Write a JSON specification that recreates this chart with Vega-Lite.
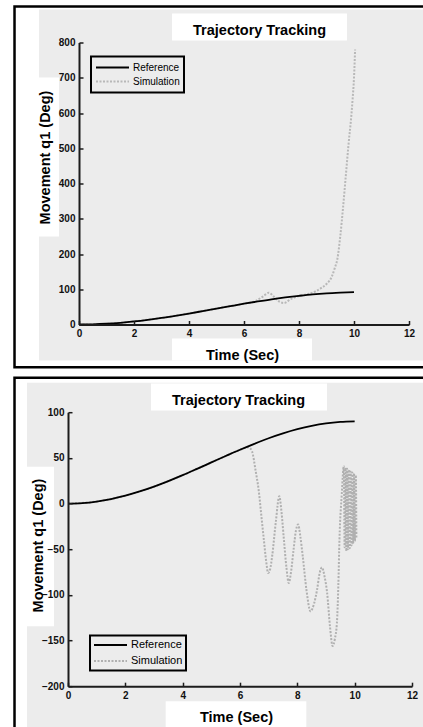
{
  "$schema": "https://vega.github.io/schema/vega-lite/v6.json",
  "background": "white",
  "padding": {"left": 13, "top": 4.5, "right": 0, "bottom": 0},
  "bounds": "flush",
  "spacing": 87.7,
  "config": {
    "view": {"stroke": null},
    "font": "Liberation Sans",
    "axis": {
      "grid": false,
      "domainColor": "#1c1c1c",
      "domainWidth": 2,
      "tickColor": "#1c1c1c",
      "tickWidth": 1.5,
      "tickSize": -4,
      "labelFont": "Liberation Sans",
      "labelFontSize": 10,
      "labelFontWeight": "bold",
      "labelColor": "#111111",
      "labelPadding": 8,
      "labelFlush": false,
      "labelOverlap": false,
      "titleFont": "Liberation Sans",
      "titleFontSize": 14.5,
      "titleFontWeight": "bold",
      "titleColor": "black",
      "titleBaseline": "alphabetic",
      "titleAlign": "center"
    },
    "axisY": {"tickCount": 9},
    "legend": {
      "orient": "none",
      "symbolType": "stroke",
      "symbolSize": 1089,
      "symbolStrokeWidth": 2,
      "strokeColor": "black",
      "fillColor": "#ececec",
      "labelFont": "Liberation Sans",
      "labelColor": "black",
      "zindex": 1
    }
  },
  "datasets": {
    "top": [
      {"time": 0, "q1": 0, "series": "Reference"},
      {"time": 0.5, "q1": 0.55, "series": "Reference"},
      {"time": 1, "q1": 2.2, "series": "Reference"},
      {"time": 1.5, "q1": 4.9, "series": "Reference"},
      {"time": 2, "q1": 8.6, "series": "Reference"},
      {"time": 2.5, "q1": 13.2, "series": "Reference"},
      {"time": 3, "q1": 18.5, "series": "Reference"},
      {"time": 3.5, "q1": 24.6, "series": "Reference"},
      {"time": 4, "q1": 31.1, "series": "Reference"},
      {"time": 4.5, "q1": 38, "series": "Reference"},
      {"time": 5, "q1": 45, "series": "Reference"},
      {"time": 5.5, "q1": 52, "series": "Reference"},
      {"time": 6, "q1": 58.9, "series": "Reference"},
      {"time": 6.5, "q1": 65.4, "series": "Reference"},
      {"time": 7, "q1": 71.5, "series": "Reference"},
      {"time": 7.5, "q1": 76.8, "series": "Reference"},
      {"time": 8, "q1": 81.4, "series": "Reference"},
      {"time": 8.5, "q1": 85.5, "series": "Reference"},
      {"time": 9, "q1": 88.5, "series": "Reference"},
      {"time": 9.5, "q1": 90.5, "series": "Reference"},
      {"time": 10, "q1": 92, "series": "Reference"},
      {"time": 0, "q1": 0, "series": "Simulation"},
      {"time": 0.5, "q1": 0.3, "series": "Simulation"},
      {"time": 1, "q1": 1.5, "series": "Simulation"},
      {"time": 1.5, "q1": 4.5, "series": "Simulation"},
      {"time": 2, "q1": 8.8, "series": "Simulation"},
      {"time": 2.5, "q1": 13.5, "series": "Simulation"},
      {"time": 3, "q1": 18.8, "series": "Simulation"},
      {"time": 3.5, "q1": 24.8, "series": "Simulation"},
      {"time": 4, "q1": 31.3, "series": "Simulation"},
      {"time": 4.5, "q1": 38.2, "series": "Simulation"},
      {"time": 5, "q1": 45.3, "series": "Simulation"},
      {"time": 5.5, "q1": 52.3, "series": "Simulation"},
      {"time": 6, "q1": 59.2, "series": "Simulation"},
      {"time": 6.4, "q1": 66, "series": "Simulation"},
      {"time": 6.7, "q1": 80, "series": "Simulation"},
      {"time": 6.9, "q1": 90, "series": "Simulation"},
      {"time": 7.1, "q1": 78, "series": "Simulation"},
      {"time": 7.3, "q1": 64, "series": "Simulation"},
      {"time": 7.45, "q1": 61, "series": "Simulation"},
      {"time": 7.7, "q1": 72, "series": "Simulation"},
      {"time": 8, "q1": 81, "series": "Simulation"},
      {"time": 8.3, "q1": 86, "series": "Simulation"},
      {"time": 8.6, "q1": 94, "series": "Simulation"},
      {"time": 8.8, "q1": 103, "series": "Simulation"},
      {"time": 9, "q1": 115, "series": "Simulation"},
      {"time": 9.2, "q1": 137, "series": "Simulation"},
      {"time": 9.3, "q1": 160, "series": "Simulation"},
      {"time": 9.4, "q1": 188, "series": "Simulation"},
      {"time": 9.5, "q1": 250, "series": "Simulation"},
      {"time": 9.6, "q1": 330, "series": "Simulation"},
      {"time": 9.7, "q1": 420, "series": "Simulation"},
      {"time": 9.8, "q1": 510, "series": "Simulation"},
      {"time": 9.9, "q1": 590, "series": "Simulation"},
      {"time": 9.95, "q1": 640, "series": "Simulation"},
      {"time": 10, "q1": 700, "series": "Simulation"},
      {"time": 10.04, "q1": 780, "series": "Simulation"}
    ],
    "bottom": [
      {"time": 0, "q1": 0, "series": "Reference"},
      {"time": 0.5, "q1": 0.55, "series": "Reference"},
      {"time": 1, "q1": 2.2, "series": "Reference"},
      {"time": 1.5, "q1": 4.9, "series": "Reference"},
      {"time": 2, "q1": 8.6, "series": "Reference"},
      {"time": 2.5, "q1": 13.2, "series": "Reference"},
      {"time": 3, "q1": 18.5, "series": "Reference"},
      {"time": 3.5, "q1": 24.6, "series": "Reference"},
      {"time": 4, "q1": 31.1, "series": "Reference"},
      {"time": 4.5, "q1": 38, "series": "Reference"},
      {"time": 5, "q1": 45, "series": "Reference"},
      {"time": 5.5, "q1": 52, "series": "Reference"},
      {"time": 6, "q1": 58.9, "series": "Reference"},
      {"time": 6.5, "q1": 65.4, "series": "Reference"},
      {"time": 7, "q1": 71.5, "series": "Reference"},
      {"time": 7.5, "q1": 76.8, "series": "Reference"},
      {"time": 8, "q1": 81.4, "series": "Reference"},
      {"time": 8.5, "q1": 85.1, "series": "Reference"},
      {"time": 9, "q1": 87.8, "series": "Reference"},
      {"time": 9.5, "q1": 89.4, "series": "Reference"},
      {"time": 10, "q1": 90, "series": "Reference"},
      {"time": 0, "q1": 0, "series": "Simulation"},
      {"time": 1, "q1": 2.2, "series": "Simulation"},
      {"time": 2, "q1": 8.6, "series": "Simulation"},
      {"time": 3, "q1": 18.5, "series": "Simulation"},
      {"time": 4, "q1": 31.1, "series": "Simulation"},
      {"time": 5, "q1": 45, "series": "Simulation"},
      {"time": 5.5, "q1": 52, "series": "Simulation"},
      {"time": 6, "q1": 58.9, "series": "Simulation"},
      {"time": 6.3, "q1": 61.5, "series": "Simulation"},
      {"time": 6.42, "q1": 57, "series": "Simulation"},
      {"time": 6.55, "q1": 35, "series": "Simulation"},
      {"time": 6.65, "q1": 15, "series": "Simulation"},
      {"time": 6.75, "q1": -15, "series": "Simulation"},
      {"time": 6.83, "q1": -39, "series": "Simulation"},
      {"time": 6.92, "q1": -65, "series": "Simulation"},
      {"time": 6.98, "q1": -76, "series": "Simulation"},
      {"time": 7.05, "q1": -72, "series": "Simulation"},
      {"time": 7.12, "q1": -58, "series": "Simulation"},
      {"time": 7.25, "q1": -20, "series": "Simulation"},
      {"time": 7.37, "q1": 8, "series": "Simulation"},
      {"time": 7.45, "q1": -10, "series": "Simulation"},
      {"time": 7.53, "q1": -39, "series": "Simulation"},
      {"time": 7.62, "q1": -70, "series": "Simulation"},
      {"time": 7.7, "q1": -87, "series": "Simulation"},
      {"time": 7.78, "q1": -75, "series": "Simulation"},
      {"time": 7.87, "q1": -50, "series": "Simulation"},
      {"time": 7.95, "q1": -30, "series": "Simulation"},
      {"time": 8.03, "q1": -23, "series": "Simulation"},
      {"time": 8.1, "q1": -35, "series": "Simulation"},
      {"time": 8.19, "q1": -58, "series": "Simulation"},
      {"time": 8.32, "q1": -95, "series": "Simulation"},
      {"time": 8.46, "q1": -118, "series": "Simulation"},
      {"time": 8.58, "q1": -110, "series": "Simulation"},
      {"time": 8.69, "q1": -94, "series": "Simulation"},
      {"time": 8.78, "q1": -76, "series": "Simulation"},
      {"time": 8.86, "q1": -70, "series": "Simulation"},
      {"time": 8.95, "q1": -80, "series": "Simulation"},
      {"time": 9.04, "q1": -98, "series": "Simulation"},
      {"time": 9.14, "q1": -135, "series": "Simulation"},
      {"time": 9.23, "q1": -156, "series": "Simulation"},
      {"time": 9.31, "q1": -148, "series": "Simulation"},
      {"time": 9.38, "q1": -131, "series": "Simulation"},
      {"time": 9.43, "q1": -90, "series": "Simulation"},
      {"time": 9.47, "q1": -39, "series": "Simulation"},
      {"time": 9.55, "q1": 10, "series": "Simulation"},
      {"time": 9.62, "q1": 41, "series": "Simulation"},
      {"time": 9.65, "q1": -48, "series": "Simulation"},
      {"time": 9.68, "q1": 39, "series": "Simulation"},
      {"time": 9.71, "q1": -52, "series": "Simulation"},
      {"time": 9.74, "q1": 38, "series": "Simulation"},
      {"time": 9.77, "q1": -50, "series": "Simulation"},
      {"time": 9.8, "q1": 37, "series": "Simulation"},
      {"time": 9.83, "q1": -49, "series": "Simulation"},
      {"time": 9.86, "q1": 35, "series": "Simulation"},
      {"time": 9.89, "q1": -46, "series": "Simulation"},
      {"time": 9.92, "q1": 34, "series": "Simulation"},
      {"time": 9.95, "q1": -44, "series": "Simulation"},
      {"time": 9.98, "q1": 33, "series": "Simulation"},
      {"time": 10.01, "q1": -41, "series": "Simulation"},
      {"time": 10.04, "q1": 31, "series": "Simulation"},
      {"time": 10.06, "q1": -38, "series": "Simulation"}
    ]
  },
  "resolve": {
    "scale": {"x": "independent", "y": "independent", "color": "independent", "strokeDash": "independent"},
    "legend": {"color": "independent", "strokeDash": "independent"}
  },
  "vconcat": [
    {
      "width": 330,
      "height": 282,
      "data": {"name": "top"},
      "layer": [
        {
          "data": {"values": [{}]},
          "mark": {"type": "rect", "filled": false, "stroke": "black", "strokeWidth": 2.5},
          "encoding": {
            "x": {
              "datum": -2.345, "type": "quantitative",
              "scale": {"domain": [0, 12], "nice": false, "zero": false},
              "axis": {"title": "Time (Sec)", "values": [0, 2, 4, 6, 8, 10, 12], "titleX": 163, "titleY": 35.4, "zindex": 1}
            },
            "x2": {"datum": 13.2},
            "y": {
              "datum": 902, "type": "quantitative",
              "scale": {"domain": [0, 800], "nice": false, "zero": false},
              "axis": {"title": "Movement q1 (Deg)", "values": [0, 100, 200, 300, 400, 500, 600, 700, 800], "titleX": -29.5, "titleY": 114.5, "zindex": 1}
            },
            "y2": {"datum": -121}
          }
        },
        {
          "data": {"values": [{}]},
          "mark": {"type": "rect", "fill": "#ececec"},
          "encoding": {
            "x": {"datum": -1.4545, "type": "quantitative", "scale": {"domain": [0, 12], "nice": false, "zero": false}},
            "x2": {"datum": 13.2},
            "y": {"datum": 893.6, "type": "quantitative", "scale": {"domain": [0, 800], "nice": false, "zero": false}},
            "y2": {"datum": -102}
          }
        },
        {
          "data": {"values": [{}]},
          "mark": {"type": "rect", "fill": "white"},
          "encoding": {
            "x": {"datum": 3.382, "type": "quantitative", "scale": {"domain": [0, 12], "nice": false, "zero": false}},
            "x2": {"datum": 9.745},
            "y": {"datum": 882.3, "type": "quantitative", "scale": {"domain": [0, 800], "nice": false, "zero": false}},
            "y2": {"datum": 805.7}
          }
        },
        {
          "data": {"values": [{}]},
          "mark": {"type": "rect", "fill": "white"},
          "encoding": {
            "x": {"datum": -1.4545, "type": "quantitative", "scale": {"domain": [0, 12], "nice": false, "zero": false}},
            "x2": {"datum": -0.727},
            "y": {"datum": 700.7, "type": "quantitative", "scale": {"domain": [0, 800], "nice": false, "zero": false}},
            "y2": {"datum": 249.6}
          }
        },
        {
          "data": {"values": [{}]},
          "mark": {"type": "rect", "fill": "white"},
          "encoding": {
            "x": {"datum": 3.382, "type": "quantitative", "scale": {"domain": [0, 12], "nice": false, "zero": false}},
            "x2": {"datum": 8.473},
            "y": {"datum": -39.7, "type": "quantitative", "scale": {"domain": [0, 800], "nice": false, "zero": false}},
            "y2": {"datum": -102}
          }
        },
        {
          "data": {"values": [{}]},
          "mark": {"type": "text", "font": "Liberation Sans", "fontSize": 14.5, "fontWeight": "bold", "color": "black", "align": "center", "baseline": "alphabetic"},
          "encoding": {
            "x": {"datum": 6.564, "type": "quantitative", "scale": {"domain": [0, 12], "nice": false, "zero": false}},
            "y": {"datum": 820, "type": "quantitative", "scale": {"domain": [0, 800], "nice": false, "zero": false}},
            "text": {"value": "Trajectory Tracking"}
          }
        },
        {
          "transform": [{"filter": "datum.series === 'Simulation'"}],
          "mark": {"type": "line", "strokeWidth": 2, "interpolate": "monotone"},
          "encoding": {
            "x": {"field": "time", "type": "quantitative", "scale": {"domain": [0, 12], "nice": false, "zero": false}},
            "y": {"field": "q1", "type": "quantitative", "scale": {"domain": [0, 800], "nice": false, "zero": false}},
            "color": {
              "field": "series", "type": "nominal",
              "scale": {"domain": ["Reference", "Simulation"], "range": ["#000000", "#b8b8b8"]},
              "legend": {"title": null, "legendX": 12, "legendY": 14, "padding": 4, "clipHeight": 14, "rowPadding": 0, "labelFontSize": 10, "labelOffset": 3, "encode": {"legend": {"update": {"strokeWidth": {"value": 2}}}}}
            },
            "strokeDash": {
              "field": "series", "type": "nominal",
              "scale": {"domain": ["Reference", "Simulation"], "range": [[1, 0], [2, 1.5]]},
              "legend": {"title": null, "legendX": 12, "legendY": 14, "padding": 4, "clipHeight": 14, "rowPadding": 0, "labelFontSize": 10, "labelOffset": 3, "encode": {"legend": {"update": {"strokeWidth": {"value": 2}}}}}
            }
          }
        },
        {
          "transform": [{"filter": "datum.series === 'Reference'"}],
          "mark": {"type": "line", "strokeWidth": 1.8, "interpolate": "monotone"},
          "encoding": {
            "x": {"field": "time", "type": "quantitative", "scale": {"domain": [0, 12], "nice": false, "zero": false}},
            "y": {"field": "q1", "type": "quantitative", "scale": {"domain": [0, 800], "nice": false, "zero": false}},
            "color": {"field": "series", "type": "nominal", "scale": {"domain": ["Reference", "Simulation"], "range": ["#000000", "#b8b8b8"]}, "legend": null}
          }
        }
      ]
    },
    {
      "width": 333,
      "height": 274,
      "data": {"name": "bottom"},
      "layer": [
        {
          "data": {"values": [{}]},
          "mark": {"type": "rect", "filled": false, "stroke": "black", "strokeWidth": 2.5},
          "encoding": {
            "x": {
              "datum": -1.866, "type": "quantitative",
              "scale": {"domain": [0, 12], "nice": false, "zero": false, "range": [-11, 333]},
              "axis": {"title": "Time (Sec)", "values": [0, 2, 4, 6, 8, 10, 12], "titleX": 157, "titleY": 35.3, "zindex": 1}
            },
            "x2": {"datum": 13.2},
            "y": {
              "datum": 137.6, "type": "quantitative",
              "scale": {"domain": [-200, 100], "nice": false, "zero": false},
              "axis": {"title": "Movement q1 (Deg)", "values": [-200, -150, -100, -50, 0, 50, 100], "offset": 11, "titleX": -25.6, "titleY": 132.8, "zindex": 1}
            },
            "y2": {"datum": -252}
          }
        },
        {
          "data": {"values": [{}]},
          "mark": {"type": "rect", "fill": "#ececec"},
          "encoding": {
            "x": {"datum": -1.43, "type": "quantitative", "scale": {"domain": [0, 12], "nice": false, "zero": false, "range": [-11, 333]}},
            "x2": {"datum": 13.2},
            "y": {"datum": 132.2, "type": "quantitative", "scale": {"domain": [-200, 100], "nice": false, "zero": false}},
            "y2": {"datum": -252}
          }
        },
        {
          "data": {"values": [{}]},
          "mark": {"type": "rect", "fill": "white"},
          "encoding": {
            "x": {"datum": 2.895, "type": "quantitative", "scale": {"domain": [0, 12], "nice": false, "zero": false, "range": [-11, 333]}},
            "x2": {"datum": 9.035},
            "y": {"datum": 131.4, "type": "quantitative", "scale": {"domain": [-200, 100], "nice": false, "zero": false}},
            "y2": {"datum": 101.8}
          }
        },
        {
          "data": {"values": [{}]},
          "mark": {"type": "rect", "fill": "white"},
          "encoding": {
            "x": {"datum": -1.43, "type": "quantitative", "scale": {"domain": [0, 12], "nice": false, "zero": false, "range": [-11, 333]}},
            "x2": {"datum": -0.488},
            "y": {"datum": 40.2, "type": "quantitative", "scale": {"domain": [-200, 100], "nice": false, "zero": false}},
            "y2": {"datum": -134.3}
          }
        },
        {
          "data": {"values": [{}]},
          "mark": {"type": "rect", "fill": "white"},
          "encoding": {
            "x": {"datum": 3.408, "type": "quantitative", "scale": {"domain": [0, 12], "nice": false, "zero": false, "range": [-11, 333]}},
            "x2": {"datum": 8.313},
            "y": {"datum": -216.5, "type": "quantitative", "scale": {"domain": [-200, 100], "nice": false, "zero": false}},
            "y2": {"datum": -252}
          }
        },
        {
          "data": {"values": [{}]},
          "mark": {"type": "text", "font": "Liberation Sans", "fontSize": 14.5, "fontWeight": "bold", "color": "black", "align": "center", "baseline": "alphabetic"},
          "encoding": {
            "x": {"datum": 5.948, "type": "quantitative", "scale": {"domain": [0, 12], "nice": false, "zero": false, "range": [-11, 333]}},
            "y": {"datum": 108.4, "type": "quantitative", "scale": {"domain": [-200, 100], "nice": false, "zero": false}},
            "text": {"value": "Trajectory Tracking"}
          }
        },
        {
          "transform": [{"filter": "datum.series === 'Simulation'"}],
          "mark": {"type": "line", "strokeWidth": 2, "interpolate": "monotone"},
          "encoding": {
            "x": {"field": "time", "type": "quantitative", "scale": {"domain": [0, 12], "nice": false, "zero": false, "range": [-11, 333]}},
            "y": {"field": "q1", "type": "quantitative", "scale": {"domain": [-200, 100], "nice": false, "zero": false}},
            "color": {
              "field": "series", "type": "nominal",
              "scale": {"domain": ["Reference", "Simulation"], "range": ["#000000", "#b0b0b0"]},
              "legend": {"title": null, "legendX": 11, "legendY": 223.3, "padding": 3, "clipHeight": 13, "rowPadding": 3, "labelFontSize": 11, "labelOffset": 3, "encode": {"legend": {"update": {"strokeWidth": {"value": 2}}}}}
            },
            "strokeDash": {
              "field": "series", "type": "nominal",
              "scale": {"domain": ["Reference", "Simulation"], "range": [[1, 0], [2, 1.5]]},
              "legend": {"title": null, "legendX": 11, "legendY": 223.3, "padding": 3, "clipHeight": 13, "rowPadding": 3, "labelFontSize": 11, "labelOffset": 3, "encode": {"legend": {"update": {"strokeWidth": {"value": 2}}}}}
            }
          }
        },
        {
          "transform": [{"filter": "datum.series === 'Reference'"}],
          "mark": {"type": "line", "strokeWidth": 1.8, "interpolate": "monotone"},
          "encoding": {
            "x": {"field": "time", "type": "quantitative", "scale": {"domain": [0, 12], "nice": false, "zero": false, "range": [-11, 333]}},
            "y": {"field": "q1", "type": "quantitative", "scale": {"domain": [-200, 100], "nice": false, "zero": false}},
            "color": {"field": "series", "type": "nominal", "scale": {"domain": ["Reference", "Simulation"], "range": ["#000000", "#b0b0b0"]}, "legend": null}
          }
        }
      ]
    }
  ]
}
